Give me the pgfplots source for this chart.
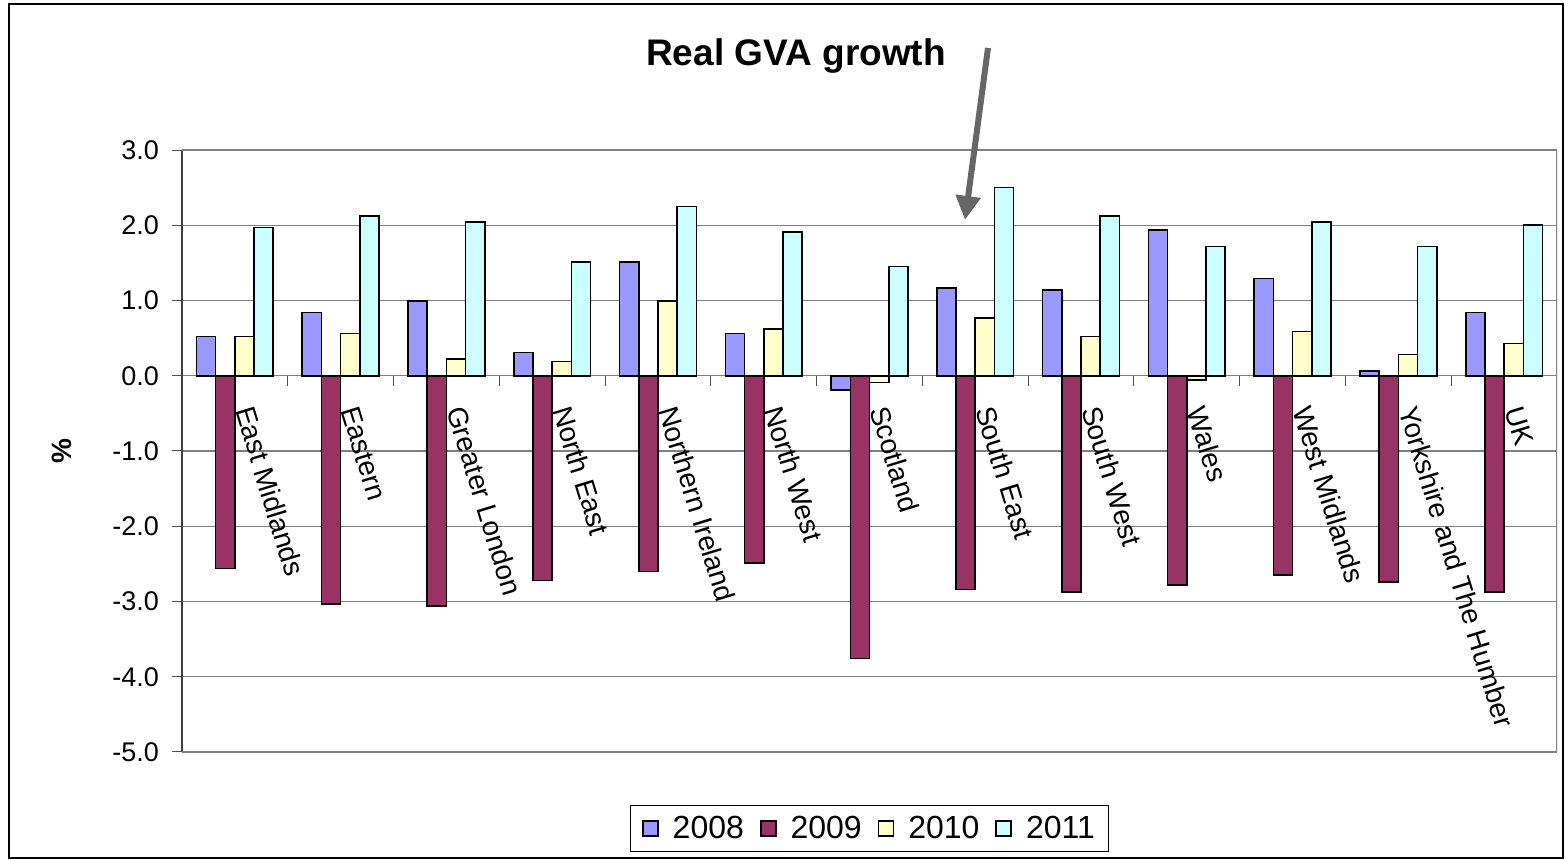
\documentclass[border=0pt]{standalone}
\usepackage{fontspec}
\setmainfont{Liberation Sans}
\usepackage{pgfplots}
\pgfplotsset{compat=1.18}
\usetikzlibrary{arrows.meta}
\definecolor{c2008}{HTML}{9999FF}
\definecolor{c2009}{HTML}{993366}
\definecolor{c2010}{HTML}{FFFFCC}
\definecolor{c2011}{HTML}{CCFFFF}
\definecolor{gridgray}{HTML}{808080}
\definecolor{arrowgray}{HTML}{666666}
\begin{document}
\begin{tikzpicture}
\useasboundingbox (0pt,0pt) rectangle (782.5pt,430pt);
\draw[black, line width=0.6pt] (4.5pt,1pt) rectangle (781.5pt,428pt);
\begin{axis}[
  at={(91pt,54pt)}, anchor=south west,
  scale only axis, width=687.5pt, height=301pt,
  xmin=-0.5, xmax=12.5, ymin=-5, ymax=3,
  axis x line=middle, axis y line=left,
  x axis line style={-, draw=gridgray, line width=0.6pt},
  y axis line style={-, draw=black!75, line width=0.8pt},
  xtick={0.5,1.5,...,11.5},
  xticklabels={},
  xtick align=outside,
  ytick align=outside,
  major tick length=5pt,
  xtick style={draw=black!70, line width=0.5pt},
  ytick style={draw=black!70, line width=0.5pt},
  ytick={-5,-4,...,3},
  ymajorgrids,
  major grid style={draw=gridgray, line width=0.6pt},
  tick label style={font=\fontsize{13.5}{16}\selectfont},
  yticklabel style={/pgf/number format/fixed, /pgf/number format/fixed zerofill, /pgf/number format/precision=1, /pgf/number format/assume math mode=true, xshift=-3pt},
  extra x ticks={0,1,...,12},
  extra x tick labels={East Midlands,Eastern,Greater London,North East,Northern Ireland,North West,Scotland,South East,South West,Wales,West Midlands,Yorkshire and The Humber,UK},
  extra x tick style={major tick length=0pt, tick label style={yshift=-17pt, rotate=-73, anchor=base west, inner sep=0pt, font=\fontsize{14}{16}\selectfont}},
  ylabel={\%},
  every axis y label/.style={at={(axis description cs:-0.0873,0.5)}, rotate=90, anchor=center, font=\bfseries\fontsize{14}{16}\selectfont},
  ybar=0pt, bar width=9.6pt,
  legend style={at={(axis description cs:0.5,-0.127)}, anchor=center, legend columns=4, draw=black, line width=0.6pt, font=\fontsize{16}{18}\selectfont, nodes={inner sep=1pt}, /tikz/every even column/.append style={column sep=7pt}, /tikz/every odd column/.append style={column sep=6pt}, inner xsep=6pt, inner ysep=4pt},
  legend image code/.code={\draw[#1, draw=black, line width=0.8pt] (0pt,-3.75pt) rectangle (7.5pt,3.75pt);},
]
\addplot[fill=c2008, draw=black, line width=0.8pt] coordinates {(0,0.52) (1,0.84) (2,0.99) (3,0.31) (4,1.51) (5,0.56) (6,-0.19) (7,1.17) (8,1.14) (9,1.94) (10,1.29) (11,0.06) (12,0.84)};
\addplot[fill=c2009, draw=black, line width=0.8pt] coordinates {(0,-2.56) (1,-3.03) (2,-3.06) (3,-2.72) (4,-2.60) (5,-2.49) (6,-3.76) (7,-2.84) (8,-2.87) (9,-2.78) (10,-2.65) (11,-2.74) (12,-2.87)};
\addplot[fill=c2010, draw=black, line width=0.8pt] coordinates {(0,0.52) (1,0.56) (2,0.22) (3,0.19) (4,0.99) (5,0.62) (6,-0.09) (7,0.77) (8,0.52) (9,-0.06) (10,0.59) (11,0.28) (12,0.43)};
\addplot[fill=c2011, draw=black, line width=0.8pt] coordinates {(0,1.97) (1,2.12) (2,2.04) (3,1.51) (4,2.25) (5,1.91) (6,1.45) (7,2.50) (8,2.12) (9,1.72) (10,2.04) (11,1.72) (12,2.00)};
\legend{2008,2009,2010,2011}
\draw[gridgray, line width=0.75pt] (rel axis cs:0,0) -- (rel axis cs:1,0) -- (rel axis cs:1,1) -- (rel axis cs:0,1);
\end{axis}
\node[anchor=base, font=\bfseries\fontsize{18.5}{22}\selectfont] at (398pt,397pt) {Real GVA growth};
\draw[arrowgray, line width=3pt, -{Triangle[width=12pt,length=12pt]}] (494pt,406pt) -- (482.5pt,320pt);
\end{tikzpicture}
\end{document}
